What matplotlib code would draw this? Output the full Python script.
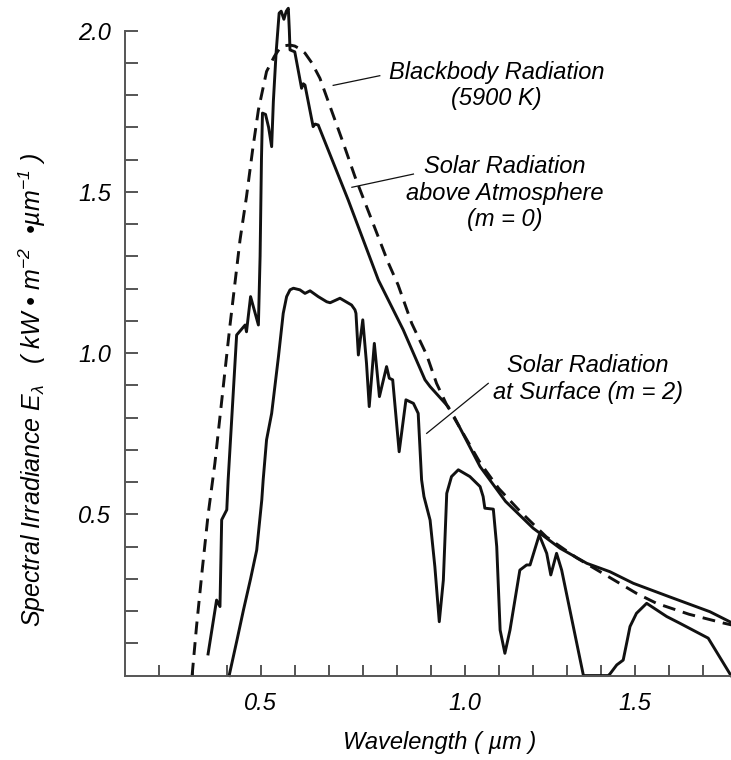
import numpy as np
import matplotlib
matplotlib.use("Agg")
from matplotlib import pyplot as plt
from matplotlib import patheffects as pe

plt.rcParams["font.family"] = ["Liberation Sans", "DejaVu Sans"]
plt.rcParams["font.style"] = "italic"
plt.rcParams["mathtext.fontset"] = "custom"
plt.rcParams["mathtext.it"] = "Liberation Sans:italic"
plt.rcParams["mathtext.rm"] = "Liberation Sans:italic"
plt.rcParams["mathtext.default"] = "it"

# blackbody 5900 K (dashed)
bb_x = [0.198, 0.211, 0.228, 0.245, 0.265, 0.287, 0.309, 0.339, 0.358, 0.376, 0.393,
        0.417, 0.44, 0.456, 0.47, 0.486, 0.50, 0.515, 0.53, 0.55, 0.574, 0.604, 0.643,
        0.677, 0.731, 0.775, 0.804, 0.844, 0.888, 0.917, 0.947, 0.971, 1.045, 1.10,
        1.162, 1.24, 1.329, 1.417, 1.505, 1.564, 1.66, 1.76, 1.785]
bb_y = [0.0, 0.152, 0.33, 0.498, 0.658, 0.87, 1.082, 1.351, 1.485, 1.63, 1.754,
        1.873, 1.92, 1.945, 1.953, 1.955, 1.952, 1.943, 1.93, 1.90, 1.852, 1.764, 1.65,
        1.547, 1.40, 1.28, 1.211, 1.092, 0.994, 0.906, 0.839, 0.795, 0.66, 0.58,
        0.51, 0.43, 0.365, 0.31, 0.255, 0.224, 0.19, 0.163, 0.157]

# solar radiation above atmosphere (m = 0)
m0_x = [0.245, 0.27, 0.28, 0.285, 0.3, 0.304, 0.329, 0.354, 0.358, 0.37, 0.393,
        0.398, 0.402, 0.405, 0.414, 0.423, 0.432, 0.437, 0.445, 0.454, 0.46, 0.468,
        0.475, 0.481, 0.484, 0.486, 0.5, 0.52, 0.525, 0.53, 0.554, 0.56, 0.569,
        0.657, 0.746, 0.819, 0.883, 0.898, 0.951, 0.971, 1.045, 1.12, 1.201, 1.28,
        1.359, 1.427, 1.496, 1.60, 1.721, 1.785]
m0_y = [0.067, 0.234, 0.214, 0.483, 0.514, 0.606, 1.056, 1.087, 1.066, 1.175, 1.087,
        1.30, 1.60, 1.744, 1.74, 1.70, 1.64, 1.78, 1.93, 2.054, 2.06, 2.035,
        2.06, 2.069, 2.0, 1.94, 1.934, 1.821, 1.835, 1.831, 1.702, 1.71, 1.707,
        1.475, 1.226, 1.072, 0.917, 0.896, 0.834, 0.798, 0.648, 0.54, 0.457, 0.395,
        0.348, 0.322, 0.286, 0.245, 0.198, 0.164]

# solar radiation at surface (m = 2)
m2_x = [0.307, 0.33, 0.349, 0.37, 0.388, 0.403, 0.407, 0.417, 0.432, 0.452, 0.466,
        0.476, 0.486, 0.496, 0.515, 0.53, 0.545, 0.569, 0.594, 0.604, 0.633, 0.667,
        0.677, 0.68, 0.687, 0.7, 0.711, 0.719, 0.734, 0.749, 0.77, 0.778, 0.788,
        0.807, 0.827, 0.849, 0.863, 0.873, 0.88, 0.898, 0.912, 0.925, 0.937, 0.947,
        0.961, 0.981, 1.015, 1.045, 1.054, 1.059, 1.084, 1.094, 1.104, 1.118, 1.133,
        1.162, 1.182, 1.192, 1.219, 1.241, 1.253, 1.27, 1.285, 1.349, 1.422, 1.427,
        1.447, 1.466, 1.478, 1.486, 1.505, 1.535, 1.594, 1.633, 1.716, 1.783]
m2_y = [0.0, 0.11, 0.203, 0.30, 0.389, 0.545, 0.606, 0.731, 0.813, 0.989, 1.123,
        1.175, 1.196, 1.201, 1.196, 1.185, 1.193, 1.175, 1.159, 1.156, 1.17, 1.149,
        1.134, 1.123, 0.994, 1.103, 0.968, 0.834, 1.03, 0.865, 0.958, 0.922, 0.917,
        0.694, 0.855, 0.844, 0.813, 0.607, 0.555, 0.482, 0.338, 0.167, 0.296, 0.565,
        0.617, 0.638, 0.617, 0.586, 0.555, 0.519, 0.516, 0.40, 0.141, 0.069, 0.141,
        0.327, 0.343, 0.343, 0.436, 0.379, 0.312, 0.379, 0.327, 0.0, 0.0, 0.005,
        0.033, 0.048, 0.11, 0.152, 0.193, 0.224, 0.183, 0.162, 0.116, 0.0]

x_ticks = np.round(np.arange(0.1, 1.71, 0.1), 1)
x_tick_text = {0.4: "0.5", 1.0: "1.0", 1.5: "1.5"}
y_ticks = np.round(np.arange(0.1, 2.01, 0.1), 1)
y_tick_text = {0.5: "0.5", 1.0: "1.0", 1.5: "1.5", 2.0: "2.0"}

fig = plt.figure(figsize=(7.31, 7.60), dpi=100)
ax = fig.add_axes([0.1707, 0.1111, 0.8302, 0.8869])

ax.plot(bb_x, bb_y, color="#111111", lw=2.1, dashes=(4.4, 2.7), clip_on=False)
ax.plot(m0_x, m0_y, color="#111111", lw=2.1, clip_on=False, solid_joinstyle="round")
ax.plot(m2_x, m2_y, color="#111111", lw=2.1, clip_on=False, solid_joinstyle="round")

ax.set_xlim(0, 1.785)
ax.set_ylim(0, 2.09)

for s in ["top", "right"]:
    ax.spines[s].set_visible(False)
ax.spines["left"].set_bounds(0, 2.0)
for s in ["left", "bottom"]:
    ax.spines[s].set_color("#555555")
    ax.spines[s].set_linewidth(1.4)

ax.set_xticks(x_ticks)
ax.set_xticklabels([x_tick_text.get(t, "") for t in x_ticks])
ax.set_yticks(y_ticks)
ax.set_yticklabels([y_tick_text.get(t, "") for t in y_ticks])
ax.tick_params(direction="in", length=8, width=1.4, color="#555555", labelsize=17)
ax.tick_params(axis="y", length=9, pad=10)
ax.tick_params(axis="x", pad=12)

ax.set_xlabel("Wavelength ( µm )", fontsize=17)
ax.xaxis.set_label_coords(0.518, -0.1)
ax.xaxis.label.set_va("center")
ax.set_ylabel(r"Spectral Irradiance $E_\lambda$   ( kW • m$^{-2}$  •µm$^{-1}$ )", fontsize=18)
ax.yaxis.set_label_coords(-0.152, 0.424)
ax.yaxis.label.set_va("center")

# annotations
ax.text(1.094, 1.829, "Blackbody Radiation\n(5900 K)", ha="center", va="center",
        fontsize=17, linespacing=1.2)
ax.plot([0.613, 0.75], [1.83, 1.86], color="#111111", lw=0.9)
ax.text(1.118, 1.4955, "Solar Radiation\nabove Atmosphere\n(m = 0)", ha="center",
        va="center", fontsize=17, linespacing=1.2)
ax.plot([0.668, 0.849], [1.514, 1.555], color="#111111", lw=0.9)
ax.text(1.361, 0.919, "Solar Radiation\nat Surface (m = 2)", ha="center", va="center",
        fontsize=17, linespacing=1.2)
ax.plot([0.888, 1.069], [0.751, 0.906], color="#111111", lw=0.9,
        path_effects=[pe.withStroke(linewidth=6, foreground="white")])

fig.savefig("out.png", dpi=100)
